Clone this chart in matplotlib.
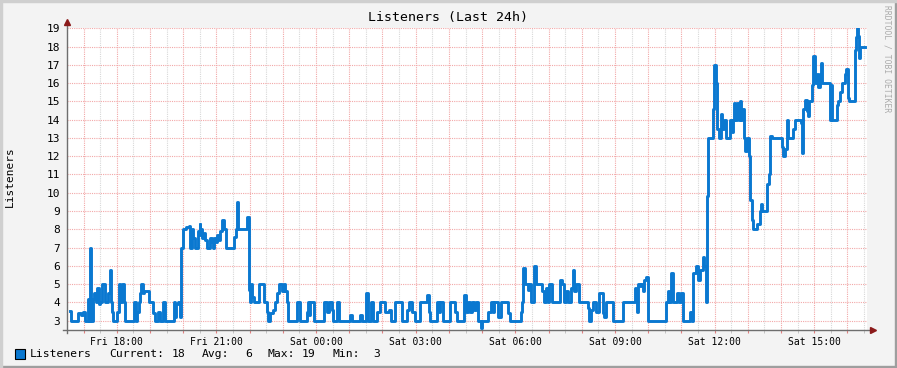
import matplotlib
matplotlib.use("Agg")
import matplotlib.pyplot as plt
from matplotlib.patches import Rectangle
from matplotlib.lines import Line2D

plt.rcParams["font.family"] = ["DejaVu Sans Mono"]

# (hour since Fri 00:00, listeners) step changes; 24 = Sat 00:00
fri_evening = [
    (16.59, 3.55), (16.62, 3), (16.83, 3.4), (16.92, 3.3), (16.98, 3.5), (17.04, 3), (17.13, 4.2), (17.16, 3),
    (17.19, 7), (17.22, 3), (17.28, 4.2), (17.31, 4.5), (17.37, 4), (17.40, 4.8), (17.46, 3.9), (17.49, 4),
    (17.55, 5), (17.64, 4), (17.73, 4.5), (17.79, 5.8), (17.82, 4), (17.85, 3.5), (17.88, 3), (18.00, 3.5),
    (18.06, 5), (18.09, 4), (18.15, 5), (18.21, 4), (18.24, 3), (18.51, 4), (18.57, 3), (18.60, 3.5),
    (18.66, 4), (18.69, 4.5), (18.72, 5), (18.78, 4.5), (18.81, 4.6), (18.96, 4), (19.08, 3.4), (19.14, 3),
    (19.23, 3.5), (19.29, 3), (19.38, 4), (19.44, 3), (19.71, 4), (19.74, 3.2), (19.77, 3.9), (19.83, 4),
    (19.89, 3.2), (19.92, 7), (19.98, 8), (20.07, 8.1), (20.16, 8.2), (20.19, 7), (20.25, 8), (20.28, 7.5),
    (20.34, 7), (20.43, 7.9), (20.49, 8.3), (20.52, 7.7), (20.55, 8), (20.58, 7.5), (20.64, 7.8), (20.67, 7.4),
    (20.73, 7), (20.82, 7.5), (20.88, 7.3), (20.91, 7), (20.94, 7.5), (21.00, 7.3), (21.03, 7.7), (21.09, 7.4),
    (21.12, 7.9), (21.18, 8.5), (21.24, 8), (21.30, 7), (21.54, 7.6), (21.60, 8), (21.63, 9.5), (21.66, 8),
    (21.93, 8.7),
]
overnight = [
    (21.99, 4.7), (22.02, 4), (22.05, 5), (22.08, 4.3), (22.14, 4), (22.29, 5), (22.44, 4), (22.53, 3.5),
    (22.56, 3), (22.62, 3.4), (22.71, 3.6), (22.77, 4), (22.83, 4.5), (22.89, 5), (22.98, 4.6), (23.04, 5),
    (23.07, 4.6), (23.13, 4), (23.16, 3), (23.43, 4), (23.52, 3), (23.73, 3.5), (23.76, 4), (23.79, 3.3),
    (23.82, 4), (23.94, 3), (24.24, 4), (24.33, 3.5), (24.39, 4), (24.48, 3.6), (24.51, 3), (24.63, 4),
    (24.69, 3), (25.02, 3.3), (25.08, 3), (25.32, 3.3), (25.38, 3), (25.50, 4.5), (25.56, 3), (25.65, 4),
    (25.71, 3), (25.83, 3.5), (25.92, 4), (26.07, 3.5), (26.19, 3.6), (26.25, 3), (26.37, 4), (26.58, 3),
    (26.73, 3.6), (26.79, 4), (26.88, 3.5), (26.97, 3), (27.12, 4), (27.33, 4.4), (27.39, 3.5), (27.42, 3),
    (27.63, 4), (27.69, 3.5), (27.72, 4), (27.81, 3), (28.02, 4), (28.17, 3.5), (28.23, 3), (28.44, 4.4),
    (28.50, 3.5), (28.59, 4), (28.65, 3.5), (28.71, 4), (28.77, 3.6), (28.83, 4), (28.89, 3), (28.98, 2.6),
    (29.01, 3), (29.19, 3.5), (29.28, 4), (29.34, 3.5), (29.37, 4), (29.49, 3.2), (29.58, 4), (29.79, 3.4),
    (29.85, 3),
]
sat_morning = [
    (30.18, 3.5), (30.21, 4), (30.24, 5.9), (30.30, 5), (30.39, 4.7), (30.42, 5), (30.48, 4), (30.57, 6),
    (30.63, 5), (30.81, 4.6), (30.87, 4), (30.93, 4.8), (30.99, 4), (31.02, 5), (31.11, 4), (31.35, 5.2),
    (31.41, 5), (31.47, 4), (31.53, 4.6), (31.59, 4), (31.68, 4.8), (31.74, 5.8), (31.77, 4.6), (31.83, 5),
    (31.92, 4), (32.19, 3.7), (32.22, 3), (32.28, 3.6), (32.34, 4), (32.43, 3.5), (32.52, 4.5), (32.64, 3.4),
    (32.67, 3.2), (32.73, 4), (32.94, 3), (33.24, 4), (33.60, 4.8), (33.63, 4.2), (33.66, 3.5), (33.69, 5),
    (33.75, 4.9), (33.78, 5), (33.84, 4.6), (33.87, 5.2), (33.93, 5.4), (33.99, 3), (34.53, 4), (34.59, 4.6),
    (34.62, 4), (34.68, 5.6), (34.74, 4), (34.86, 4.5), (34.92, 4), (34.98, 4.5), (35.04, 3), (35.25, 3.5),
    (35.31, 3), (35.34, 5.6), (35.43, 6), (35.49, 5.2), (35.55, 5.8), (35.64, 6.5), (35.67, 6), (35.73, 4),
]
sat_afternoon = [
    (35.76, 9.8), (35.79, 13), (35.94, 14.6), (35.97, 17), (36.03, 16), (36.06, 13.5), (36.12, 13), (36.18, 14.3),
    (36.21, 13.5), (36.27, 14), (36.33, 13), (36.45, 14), (36.51, 13.3), (36.54, 14), (36.57, 14.9), (36.63, 14),
    (36.69, 14.9), (36.75, 14), (36.78, 15), (36.81, 14), (36.84, 14.6), (36.90, 13), (36.93, 12.3), (36.99, 13),
    (37.05, 12), (37.08, 9.6), (37.14, 8.5), (37.17, 8), (37.29, 8.3), (37.38, 9.0), (37.41, 9.4), (37.44, 9.0),
    (37.59, 10.5), (37.65, 11), (37.68, 13.1), (37.74, 13), (38.04, 12.5), (38.07, 12), (38.13, 12.4), (38.19, 14),
    (38.22, 13), (38.37, 13.5), (38.43, 14), (38.61, 13.8), (38.64, 12.2), (38.67, 14.6), (38.73, 15.1), (38.79, 14.5),
    (38.82, 14.2), (38.85, 15), (38.94, 15.9), (38.97, 17.5), (39.03, 16), (39.09, 16.5), (39.12, 15.8), (39.18, 16.5),
    (39.21, 17.1), (39.24, 16), (39.48, 14), (39.51, 15.9), (39.54, 14), (39.69, 14.8), (39.72, 15), (39.78, 15.5),
    (39.84, 16), (39.93, 16.5), (39.96, 16.8), (40.02, 15.2), (40.05, 15), (40.23, 17.8), (40.26, 18.5), (40.29, 19),
    (40.32, 18.6), (40.35, 17.4), (40.38, 18), (40.53, 18),
]

# legend pieces and where they sit (pixels from left)
legend_items = ["Listeners", "Current:", "18", "Avg:", "6", "Max:", "19", "Min:", "3"]
legend_x = [30, 109, 172, 202, 245, 267, 302, 332, 373]

points = fri_evening + overnight + sat_morning + sat_afternoon
hours = [p[0] for p in points]
listeners = [p[1] for p in points]

W, H = 897, 368
fig = plt.figure(figsize=(W / 100, H / 100), dpi=100, facecolor="#F3F3F3")

# 3d-ish border like rrdtool
fig.patches.append(Rectangle((0, 0), 1, 2 / H, transform=fig.transFigure, color="#9E9E9E", zorder=0))
fig.patches.append(Rectangle((1 - 2 / W, 0), 2 / W, 1, transform=fig.transFigure, color="#9E9E9E", zorder=0))
fig.patches.append(Rectangle((0, 1 - 2 / H), 1, 2 / H, transform=fig.transFigure, color="#CFCFCF", zorder=0))
fig.patches.append(Rectangle((0, 0), 2 / W, 1, transform=fig.transFigure, color="#CFCFCF", zorder=0))

x0, x1 = 67, 867
y_top, y_bot = 28.3, 329.8
ax = fig.add_axes([x0 / W, 1 - y_bot / H, (x1 - x0) / W, (y_bot - y_top) / H])
ax.set_facecolor("white")
ax.set_xlim(16.59, 40.59)
ax.set_ylim(2.5, 19)

for s in ax.spines.values():
    s.set_visible(False)

major_h = list(range(17, 41))
minor_h = [h + 0.5 for h in range(16, 41)]
ax.set_xticks(major_h)
ax.set_xticks(minor_h, minor=True)


def hour_label(h):
    if h % 3:
        return ""
    day = "Fri" if h < 24 else "Sat"
    return f"{day} {h % 24:02d}:00"


ax.set_xticklabels([hour_label(h) for h in major_h])
ax.set_yticks(range(3, 20))

ax.grid(True, axis="x", which="minor", color="#D8D8D8", linestyle=(0, (1, 1)), linewidth=0.8)
ax.grid(True, axis="x", which="major", color="#F2A8A8", linestyle=(0, (1, 1)), linewidth=0.8)
ax.grid(True, axis="y", which="major", color="#F2A8A8", linestyle=(0, (1, 1)), linewidth=0.8)
ax.set_axisbelow(True)

ax.tick_params(axis="x", which="major", length=2.5, color="#E08080", labelsize=7, pad=3)
ax.tick_params(axis="x", which="minor", length=2.5, color="#BBBBBB")
ax.tick_params(axis="y", length=0, labelsize=8, pad=5)

ax.step(hours, listeners, where="post", color="#0A78D0", linewidth=2.1, zorder=3)

# axis lines with arrows
axc = "#6E6E6E"
ax.add_line(Line2D([0, 0], [-0.012, 1.015], transform=ax.transAxes, color=axc, lw=1, clip_on=False))
ax.add_line(Line2D([-0.005, 1.006], [0, 0], transform=ax.transAxes, color=axc, lw=1, clip_on=False))
ax.plot([0], [1.02], marker="^", markersize=4, color="#8B1A1A", transform=ax.transAxes, clip_on=False)
ax.plot([1.007], [0], marker=">", markersize=4, color="#8B1A1A", transform=ax.transAxes, clip_on=False)

fig.text(448 / W, 1 - 18 / H, "Listeners (Last 24h)", ha="center", va="center", fontsize=9.5)
fig.text(10 / W, 1 - 177 / H, "Listeners", rotation=90, ha="center", va="center", fontsize=8)
fig.text(887 / W, 1 - 5 / H, "RRDTOOL / TOBI OETIKER", rotation=270, ha="center", va="top",
         fontsize=5.8, color="#ABABAB")

fig.patches.append(Rectangle((15 / W, 1 - 359 / H), 10 / W, 10 / H, transform=fig.transFigure,
                             facecolor="#0A78D0", edgecolor="black", linewidth=0.8, zorder=2))
for txt, lx in zip(legend_items, legend_x):
    fig.text(lx / W, 1 - 354 / H, txt, ha="left", va="center", fontsize=8.2)

fig.savefig("out.png", dpi=100, facecolor=fig.get_facecolor())
